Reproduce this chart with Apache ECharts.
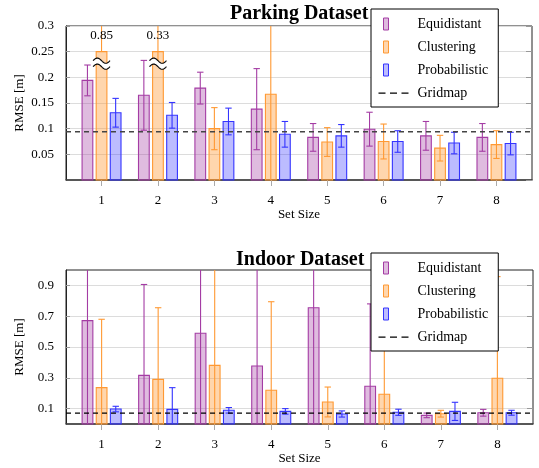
<!DOCTYPE html>
<html><head><meta charset="utf-8">
<script src="https://cdn.jsdelivr.net/npm/echarts@6/dist/echarts.min.js"></script>
<style>html,body{margin:0;padding:0;background:#fff}#c{width:539px;height:468px}</style>
</head><body><div id="c"></div>
<script>
// ---- data ----
const setSizes = [1, 2, 3, 4, 5, 6, 7, 8];
const seriesNames = ['Equidistant', 'Clustering', 'Probabilistic', 'Gridmap'];

const parkingEquidistant    = [0.194, 0.165, 0.179, 0.138, 0.083, 0.099, 0.086, 0.083];
const parkingEquidistantErr = [0.030, 0.068, 0.031, 0.079, 0.027, 0.033, 0.028, 0.027];
const parkingClustering     = [0.85, 0.33, 0.100, 0.167, 0.074, 0.075, 0.062, 0.069];
const parkingClusteringErr  = [0.30, 0.10, 0.041, 0.170, 0.028, 0.034, 0.025, 0.027];
const parkingProbabilistic    = [0.131, 0.126, 0.114, 0.089, 0.086, 0.075, 0.072, 0.071];
const parkingProbabilisticErr = [0.028, 0.025, 0.026, 0.025, 0.022, 0.021, 0.021, 0.022];
const parkingGridmap = 0.094;
const parkingBreakAt = 0.25;
const parkingTicks = [0.05, 0.1, 0.15, 0.2, 0.25, 0.3];

const indoorEquidistant    = [0.671, 0.316, 0.589, 0.377, 0.755, 0.245, 0.056, 0.073];
const indoorEquidistantErr = [0.70, 0.59, 0.65, 0.70, 0.80, 0.535, 0.015, 0.022];
const indoorClustering     = [0.236, 0.290, 0.381, 0.219, 0.143, 0.193, 0.067, 0.297];
const indoorClusteringErr  = [0.444, 0.465, 0.70, 0.575, 0.097, 0.296, 0.022, 0.66];
const indoorProbabilistic    = [0.097, 0.095, 0.089, 0.082, 0.065, 0.076, 0.082, 0.073];
const indoorProbabilisticErr = [0.018, 0.141, 0.018, 0.018, 0.020, 0.020, 0.059, 0.016];
const indoorGridmap = 0.070;
const indoorTicks = [0.1, 0.3, 0.5, 0.7, 0.9];

// ---- styling ----
const FONT = '"Liberation Serif","Times New Roman",serif';
const X_MIN = 0.37, X_MAX = 8.63;
const styles = [
  {stroke: '#a43ca4', fill: 'rgba(164,60,164,0.35)', off: -0.25},
  {stroke: '#ff9933', fill: 'rgba(255,153,51,0.40)', off: 0},
  {stroke: '#3434ff', fill: 'rgba(52,52,255,0.33)', off: 0.25}
];

function makeRender(off, stroke, fill, yMax, breakAt) {
  return function (params, api) {
    const x = api.value(0), v = api.value(1), e = api.value(2);
    const broken = breakAt != null && v > breakAt;
    const shown = broken ? breakAt : v;
    const w = api.size([0.19, 0])[0];
    const base = api.coord([x + off, 0]);
    const top = api.coord([x + off, shown]);
    const cx = base[0];
    let lo = Math.max(0, v - e), hi = Math.min(yMax, v + e);
    if (broken) lo = Math.min(lo, shown);
    const pLo = api.coord([x + off, lo]), pHi = api.coord([x + off, hi]);
    const cap = 3.2;
    const ch = [];
    ch.push({type: 'line', shape: {x1: cx, y1: pLo[1], x2: cx, y2: pHi[1]}, style: {stroke: stroke, lineWidth: 1.1}});
    if (v + e <= yMax) ch.push({type: 'line', shape: {x1: cx - cap, y1: pHi[1], x2: cx + cap, y2: pHi[1]}, style: {stroke: stroke, lineWidth: 1.1}});
    if (!broken && v - e >= 0) ch.push({type: 'line', shape: {x1: cx - cap, y1: pLo[1], x2: cx + cap, y2: pLo[1]}, style: {stroke: stroke, lineWidth: 1.1}});
    ch.push({type: 'rect', shape: {x: cx - w / 2, y: top[1], width: w, height: base[1] - top[1]}, style: {fill: fill, stroke: stroke, lineWidth: 1.1}});
    if (broken) {
      const mid = api.coord([x + off, breakAt])[1] + 12;
      const x0 = cx - 8.5, x1 = cx + 8.5;
      const up = [], dn = [];
      for (let i = 0; i <= 24; i++) {
        const t = i / 24;
        const px = x0 + (x1 - x0) * t;
        const dy = -2.6 * Math.sin(t * 2 * Math.PI);
        up.push([px, mid - 3 + dy]);
        dn.push([px, mid + 3 + dy]);
      }
      ch.push({type: 'polygon', shape: {points: up.concat(dn.slice().reverse())}, style: {fill: '#fff', stroke: null}});
      ch.push({type: 'polyline', shape: {points: up}, style: {stroke: '#000', lineWidth: 1.1, fill: null}});
      ch.push({type: 'polyline', shape: {points: dn}, style: {stroke: '#000', lineWidth: 1.1, fill: null}});
      const ty = api.coord([x + off, yMax])[1] + 10;
      ch.push({type: 'text', x: cx, y: ty, style: {text: String(v), fill: '#000', font: '13px ' + FONT, align: 'center', verticalAlign: 'middle'}});
    }
    return {type: 'group', children: ch};
  };
}

function toData(vals, errs) { return setSizes.map((s, i) => [s, vals[i], errs[i]]); }

function barSeries(idx, gridIdx, vals, errs, yMax, breakAt) {
  const st = styles[idx];
  return {
    type: 'custom', name: seriesNames[idx], xAxisIndex: gridIdx, yAxisIndex: gridIdx * 2,
    data: toData(vals, errs), encode: {x: 0, y: 1},
    itemStyle: {color: st.fill, borderColor: st.stroke, borderWidth: 1},
    renderItem: makeRender(st.off, st.stroke, st.fill, yMax, breakAt),
    z: 3
  };
}
function gridSeries(gridIdx, g, color) {
  return {
    type: 'line', name: seriesNames[3], xAxisIndex: gridIdx, yAxisIndex: gridIdx * 2,
    data: [[X_MIN, g], [X_MAX, g]], symbol: 'none', silent: true,
    lineStyle: {color: color, width: 1.3, type: [5, 4]}, itemStyle: {color: color}, z: 5
  };
}

function xAxis(gridIdx) {
  return {
    type: 'value', gridIndex: gridIdx, min: X_MIN, max: X_MAX,
    name: 'Set Size', nameLocation: 'middle', nameGap: 28,
    nameTextStyle: {fontFamily: FONT, fontSize: 13, color: '#000'},
    axisLine: {lineStyle: {color: '#444', width: 1.5}},
    axisTick: {show: true, inside: false, length: 6, lineStyle: {color: '#aaa'}, customValues: setSizes},
    axisLabel: {fontFamily: FONT, fontSize: 13, color: '#000', margin: 14, customValues: setSizes},
    splitLine: {show: false}
  };
}
function yAxes(gridIdx, min, max, interval, ticks, showMin) {
  const base = {type: 'value', gridIndex: gridIdx, min: min, max: max};
  if (interval) base.interval = interval;
  const left = Object.assign({}, base, {
    position: 'left',
    name: 'RMSE [m]', nameLocation: 'middle', nameGap: 40, nameRotate: 90, nameMoveOverlap: false,
    nameTextStyle: {fontFamily: FONT, fontSize: 13, color: '#000'},
    axisLine: {show: true, lineStyle: {color: '#222'}},
    axisTick: {show: true, inside: true, length: 4, lineStyle: {color: '#999'}},
    axisLabel: {fontFamily: FONT, fontSize: 13, color: '#000', margin: 12, showMinLabel: showMin},
    splitLine: {show: true, showMinLine: showMin, lineStyle: {color: '#dcdcdc', width: 1}}
  });
  const right = Object.assign({}, base, {
    position: 'right',
    axisLine: {show: false},
    axisTick: {show: true, inside: true, length: 6, lineStyle: {color: '#999'}},
    axisLabel: {show: false}, splitLine: {show: false}
  });
  if (ticks) {
    left.axisTick.customValues = ticks; left.axisLabel.customValues = ticks;
    right.axisTick.customValues = ticks; right.axisLabel.customValues = ticks;
  }
  return [left, right];
}

function legend(top) {
  const icon = 'path://M0,0M34,12M5,0h5v12h-5z';
  const dash = 'path://M0,0M34,12M0,5.4h7v1.3h-7zM11.5,5.4h7v1.3h-7zM23,5.4h7v1.3h-7z';
  return {
    orient: 'vertical', left: 371, top: top, selectedMode: false,
    backgroundColor: '#fff', borderColor: '#000', borderWidth: 1, borderRadius: 0,
    padding: [8, 10, 7, 7], itemWidth: 34, itemHeight: 12, itemGap: 9,
    textStyle: {fontFamily: FONT, fontSize: 14, color: '#000', lineHeight: 12},
    data: [0, 1, 2].map(i => ({name: seriesNames[i], icon: icon,
      itemStyle: {color: styles[i].fill, borderColor: styles[i].stroke, borderWidth: 1}}))
      .concat([{name: seriesNames[3], icon: dash, itemStyle: {color: '#000', borderWidth: 0}}]),
    z: 20
  };
}

const chart = echarts.init(document.getElementById('c'), null, {renderer: 'canvas'});
const yTop = yAxes(0, 0, 0.3, 0.05, null, false);
const yBot = yAxes(1, 0, 1.0, null, indoorTicks, true);
chart.setOption({
  animation: false,
  backgroundColor: '#fff',
  title: [
    {text: 'Parking Dataset', left: 230, top: 4, padding: 0,
     textStyle: {fontFamily: FONT, fontSize: 20, fontWeight: 'bold', color: '#000'}},
    {text: 'Indoor Dataset', left: 236, top: 250, padding: 0,
     textStyle: {fontFamily: FONT, fontSize: 20, fontWeight: 'bold', color: '#000'}}
  ],
  legend: [legend(9), legend(253)],
  grid: [
    {left: 66, top: 26, width: 466, height: 154, show: true, borderColor: '#222', borderWidth: 1, backgroundColor: 'transparent'},
    {left: 66, top: 270, width: 467, height: 154, show: true, borderColor: '#222', borderWidth: 1, backgroundColor: 'transparent'}
  ],
  xAxis: [xAxis(0), xAxis(1)],
  yAxis: [yTop[0], yTop[1], yBot[0], yBot[1]],
  series: [
    barSeries(0, 0, parkingEquidistant, parkingEquidistantErr, 0.3, parkingBreakAt),
    barSeries(1, 0, parkingClustering, parkingClusteringErr, 0.3, parkingBreakAt),
    barSeries(2, 0, parkingProbabilistic, parkingProbabilisticErr, 0.3, parkingBreakAt),
    gridSeries(0, parkingGridmap, '#444'),
    barSeries(0, 1, indoorEquidistant, indoorEquidistantErr, 1.0, null),
    barSeries(1, 1, indoorClustering, indoorClusteringErr, 1.0, null),
    barSeries(2, 1, indoorProbabilistic, indoorProbabilisticErr, 1.0, null),
    gridSeries(1, indoorGridmap, '#000')
  ]
});
</script>
</body></html>
